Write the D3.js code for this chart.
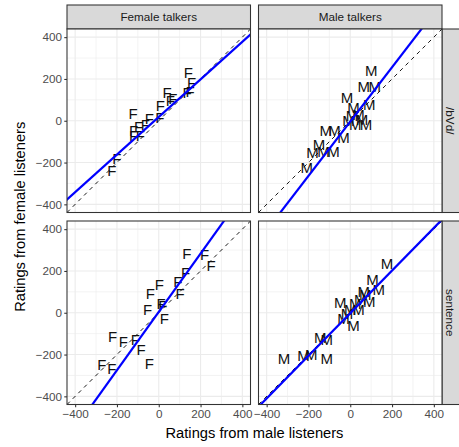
<!DOCTYPE html>
<html>

<head>
    <meta charset="UTF-8">
    <title>Ratings</title>
    <script src="https://d3js.org/d3.v7.min.js"></script>
    <style>
        body { margin: 0; background: #fff; }
        text { font-family: "Liberation Sans", Arial, sans-serif; }
    </style>
</head>

<body>
    <div id="chart"></div>
    <script type="text/javascript">
        const width = 459;
        const height = 447;

        const talkers = ["Female talkers", "Male talkers"];
        const conditions = ["/bVd/", "sentence"];
        const tickValues = [-400, -200, 0, 200, 400];
        const minorValues = [-300, -100, 100, 300];

        // x = ratings from male listeners, y = ratings from female listeners
        const bvdFemaleX = [141, 157, 136, 150, 40, 67, 55, 8, 5, -123, -45, -64, -96, -120, -120, -88, -200, -224];
        const bvdFemaleY = [232, 184, 136, 140, 136, 104, 96, 72, 16, 32, 8, -21, -29, -48, -72, -72, -184, -240];
        const bvdMaleX = [101, 64, 117, -16, 91, 16, 40, 8, 75, 24, -32, -117, -75, -149, -80, -181, -128, -208, -8, 56];
        const bvdMaleY = [238, 163, 163, 110, 78, 62, 30, 22, -18, -18, -82, -50, -50, -114, -146, -154, -149, -226, -2, 6];
        const sentFemaleX = [134, 219, 251, 128, 91, 3, -40, 102, 11, -53, 27, 19, -221, -170, -112, -85, -45, -272, -224];
        const sentFemaleY = [282, 277, 224, 189, 149, 133, 93, 90, 45, 13, -27, 32, -115, -139, -131, -179, -246, -251, -267];
        const sentMaleX = [176, 107, 136, 64, 48, 91, -48, 24, 40, 0, -32, 16, -144, -112, -224, -187, -317, -112, 72, -16];
        const sentMaleY = [234, 160, 112, 101, 61, 53, 48, 45, 13, 13, -27, -64, -118, -128, -208, -203, -219, -219, 85, -3];

        // fitted lines, panels in order: bVd/female, bVd/male, sentence/female, sentence/male
        const fitIntercept = [18, -4, 4, -2];
        const fitSlope = [0.9, 1.3, 1.395, 1.02];

        const panels = [
            { row: 0, col: 0, xs: bvdFemaleX, ys: bvdFemaleY, label: "F" },
            { row: 0, col: 1, xs: bvdMaleX, ys: bvdMaleY, label: "M" },
            { row: 1, col: 0, xs: sentFemaleX, ys: sentFemaleY, label: "F" },
            { row: 1, col: 1, xs: sentMaleX, ys: sentMaleY, label: "M" }
        ];

        const panelW = 183.5;
        const panelH = 183.5;
        const colLeft = [67, 258.5];
        const rowTop = [29, 221];
        const lim = 439;

        const svg = d3.select("#chart")
            .append("svg")
            .attr("width", width)
            .attr("height", height);

        const x = d3.scaleLinear().domain([-lim, lim]).range([0, panelW]);
        const y = d3.scaleLinear().domain([-lim, lim]).range([panelH, 0]);

        // top strips
        talkers.forEach(function (t, c) {
            const g = svg.append("g").attr("transform", "translate(" + colLeft[c] + ",5)");
            g.append("rect").attr("width", panelW).attr("height", 24)
                .attr("fill", "#d9d9d9").attr("stroke", "#333").attr("stroke-width", 1.07);
            g.append("text").attr("x", panelW / 2).attr("y", 12).attr("dy", "0.35em")
                .attr("text-anchor", "middle").attr("font-size", 11.7).attr("fill", "#1a1a1a").text(t);
        });

        // right strips (cut by the picture edge)
        conditions.forEach(function (t, r) {
            const g = svg.append("g").attr("transform", "translate(442," + rowTop[r] + ")");
            g.append("rect").attr("width", 24).attr("height", panelH)
                .attr("fill", "#d9d9d9").attr("stroke", "#333").attr("stroke-width", 1.07);
            g.append("text").attr("transform", "translate(8.5," + panelH / 2 + ")rotate(90)")
                .attr("dy", "0.35em").attr("text-anchor", "middle")
                .attr("font-size", 11.7).attr("fill", "#1a1a1a").text(t);
        });

        panels.forEach(function (p, i) {
            const g = svg.append("g")
                .attr("transform", "translate(" + colLeft[p.col] + "," + rowTop[p.row] + ")");
            g.append("clipPath").attr("id", "clip" + i)
                .append("rect").attr("width", panelW).attr("height", panelH);
            g.append("rect").attr("width", panelW).attr("height", panelH).attr("fill", "#fff");

            const grid = g.append("g");
            grid.selectAll("line.minx").data(minorValues).enter().append("line")
                .attr("x1", d => x(d)).attr("x2", d => x(d)).attr("y1", 0).attr("y2", panelH)
                .attr("stroke", "#ebebeb").attr("stroke-width", 0.6);
            grid.selectAll("line.miny").data(minorValues).enter().append("line")
                .attr("y1", d => y(d)).attr("y2", d => y(d)).attr("x1", 0).attr("x2", panelW)
                .attr("stroke", "#ebebeb").attr("stroke-width", 0.6);
            grid.selectAll("line.majx").data(tickValues).enter().append("line")
                .attr("x1", d => x(d)).attr("x2", d => x(d)).attr("y1", 0).attr("y2", panelH)
                .attr("stroke", "#ebebeb").attr("stroke-width", 1.1);
            grid.selectAll("line.majy").data(tickValues).enter().append("line")
                .attr("y1", d => y(d)).attr("y2", d => y(d)).attr("x1", 0).attr("x2", panelW)
                .attr("stroke", "#ebebeb").attr("stroke-width", 1.1);

            const plot = g.append("g").attr("clip-path", "url(#clip" + i + ")");

            // identity line
            plot.append("line")
                .attr("x1", x(-lim)).attr("y1", y(-lim)).attr("x2", x(lim)).attr("y2", y(lim))
                .attr("stroke", "#000").attr("stroke-width", 0.9).attr("stroke-dasharray", "4,4");

            plot.selectAll("text.pt").data(p.xs).enter().append("text")
                .attr("x", (d, j) => x(d)).attr("y", (d, j) => y(p.ys[j]))
                .attr("dy", "0.35em").attr("text-anchor", "middle")
                .attr("font-size", 15).attr("fill", "#111").text(p.label);

            const a = fitIntercept[i], b = fitSlope[i];
            plot.append("line")
                .attr("x1", x(-lim * 2)).attr("y1", y(a + b * -lim * 2))
                .attr("x2", x(lim * 2)).attr("y2", y(a + b * lim * 2))
                .attr("stroke", "#0000ff").attr("stroke-width", 2.2);

            g.append("rect").attr("width", panelW).attr("height", panelH)
                .attr("fill", "none").attr("stroke", "#333").attr("stroke-width", 1.07);

            if (p.col === 0) {
                const ay = g.append("g").call(d3.axisLeft(y).tickValues(tickValues).tickSize(2.74).tickPadding(2.2));
                ay.select(".domain").remove();
                ay.selectAll(".tick line").attr("stroke", "#333").attr("stroke-width", 1.07);
                ay.selectAll(".tick text").attr("fill", "#4d4d4d").attr("font-size", 11.7)
                    .attr("font-family", "Liberation Sans, Arial, sans-serif")
                    .text(d => d < 0 ? "\u2212" + Math.abs(d) : d);
            }
            if (p.row === 1) {
                const ax = g.append("g").attr("transform", "translate(0," + panelH + ")")
                    .call(d3.axisBottom(x).tickValues(tickValues).tickSize(2.74).tickPadding(2.2));
                ax.select(".domain").remove();
                ax.selectAll(".tick line").attr("stroke", "#333").attr("stroke-width", 1.07);
                ax.selectAll(".tick text").attr("fill", "#4d4d4d").attr("font-size", 11.7)
                    .attr("font-family", "Liberation Sans, Arial, sans-serif")
                    .text(d => d < 0 ? "\u2212" + Math.abs(d) : d);
            }
        });

        svg.append("text")
            .attr("x", (colLeft[0] + colLeft[1] + panelW) / 2).attr("y", 438)
            .attr("text-anchor", "middle").attr("font-size", 14.7).attr("fill", "#000")
            .text("Ratings from male listeners");

        svg.append("text")
            .attr("transform", "translate(20," + (rowTop[0] + rowTop[1] + panelH) / 2 + ")rotate(-90)")
            .attr("dy", "0.35em").attr("text-anchor", "middle").attr("font-size", 14.7).attr("fill", "#000")
            .text("Ratings from female listeners");
    </script>
</body>

</html>
